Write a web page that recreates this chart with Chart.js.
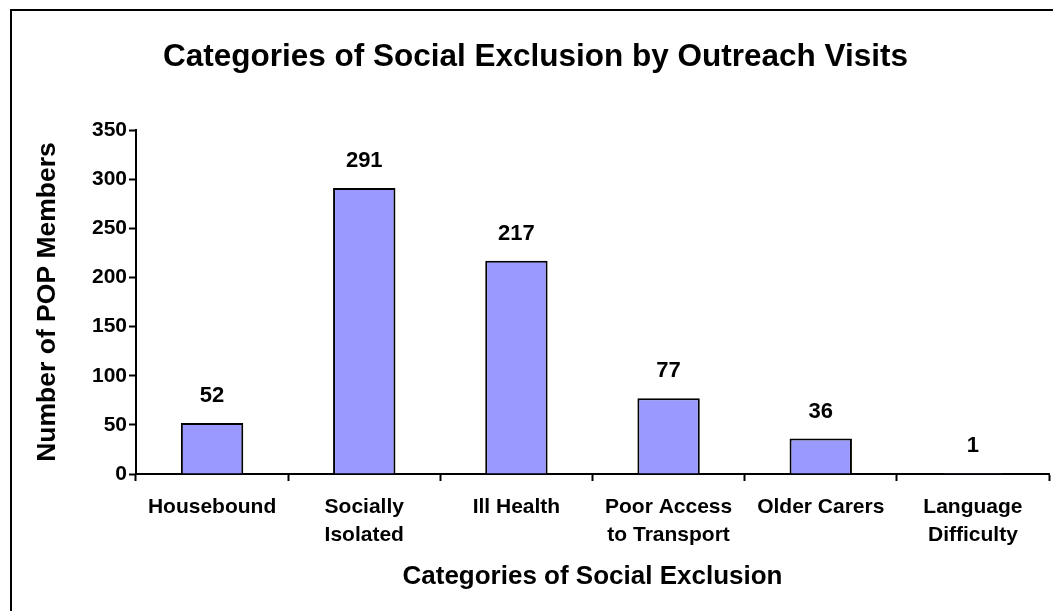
<!DOCTYPE html>
<html>
<head>
<meta charset="utf-8">
<script src="https://cdn.jsdelivr.net/npm/chart.js@4.4.1/dist/chart.umd.min.js"></script>
<style>
  html, body { margin: 0; padding: 0; background: #fff; }
  #wrap { position: relative; width: 1053px; height: 611px; overflow: hidden; }
  #frame { position: absolute; left: 10px; top: 9px; width: 1100px; height: 700px;
           border-left: 2px solid #000; border-top: 2px solid #000; }
  #chart { position: absolute; left: 0; top: 0; }
</style>
</head>
<body>
<div id="wrap">
  <div id="frame"></div>
  <canvas id="chart" width="1053" height="611"></canvas>
</div>
<script>
// chart data
var categories = [
    "Housebound",
    ["Socially", "Isolated"],
    "Ill Health",
    ["Poor Access", "to Transport"],
    "Older Carers",
    ["Language", "Difficulty"]
];
var members = [52, 291, 217, 77, 36, 1];
var yTicks = [0, 50, 100, 150, 200, 250, 300, 350];

var fontFamily = "'Liberation Sans', Arial, sans-serif";

// numbers written above each bar
const barLabels = {
    id: 'bar_labels',
    afterDatasetsDraw: (chart) => {
        const ctx = chart.ctx;
        const meta = chart.getDatasetMeta(0);
        ctx.save();
        ctx.font = "bold 22px " + fontFamily;
        ctx.fillStyle = '#000';
        ctx.textAlign = 'center';
        ctx.textBaseline = 'middle';
        meta.data.forEach((bar, i) => {
            ctx.fillText(String(members[i]), bar.x, bar.y - 27);
        });
        ctx.restore();
    }
};

var ctx = document.getElementById('chart').getContext('2d');
var myChart = new Chart(ctx, {
    type: 'bar',
    data: {
        labels: categories,
        datasets: [{
            label: 'Number of POP Members',
            data: members,
            backgroundColor: '#9999FF',
            borderColor: '#000000',
            borderWidth: 2,
            borderSkipped: 'bottom',
            categoryPercentage: 1.0,
            barPercentage: 0.41
        }]
    },
    options: {
        responsive: false,
        animation: false,
        devicePixelRatio: 1,
        layout: {
            padding: { left: 22, right: 4, top: 0, bottom: 0 }
        },
        scales: {
            x: {
                grid: {
                    offset: true,
                    drawOnChartArea: false,
                    drawTicks: true,
                    tickLength: 7,
                    tickWidth: 2,
                    tickColor: '#000'
                },
                border: { display: true, color: '#000', width: 2 },
                ticks: {
                    color: '#000',
                    padding: 12,
                    maxRotation: 0,
                    autoSkip: false,
                    font: { family: fontFamily, size: 21, weight: 'bold', lineHeight: 1.33 }
                },
                title: {
                    display: true,
                    text: 'Categories of Social Exclusion',
                    color: '#000',
                    padding: { top: 0, bottom: 19 },
                    font: { family: fontFamily, size: 26, weight: 'bold', lineHeight: 1.2 }
                },
                afterFit: (scale) => { scale.height = 137; }
            },
            y: {
                min: 0,
                max: 350,
                afterBuildTicks: (scale) => {
                    scale.ticks = yTicks.map(v => ({ value: v }));
                },
                grid: {
                    drawOnChartArea: false,
                    drawTicks: true,
                    tickLength: 7,
                    tickWidth: 2,
                    tickColor: '#000'
                },
                border: { display: true, color: '#000', width: 2 },
                ticks: {
                    color: '#000',
                    padding: 2,
                    font: { family: fontFamily, size: 21, weight: 'bold' }
                },
                title: {
                    display: true,
                    text: 'Number of POP Members',
                    color: '#000',
                    padding: { top: 10, bottom: 0 },
                    font: { family: fontFamily, size: 26.5, weight: 'bold', lineHeight: 1.2 }
                },
                afterFit: (scale) => { scale.width = 114; }
            }
        },
        plugins: {
            legend: { display: false },
            tooltip: { enabled: false },
            title: {
                display: true,
                text: 'Categories of Social Exclusion by Outreach Visits',
                color: '#000',
                padding: { top: 38, bottom: 54.2 },
                font: { family: fontFamily, size: 31.5, weight: 'bold', lineHeight: 1.2 }
            }
        }
    },
    plugins: [barLabels]
});
</script>
</body>
</html>
